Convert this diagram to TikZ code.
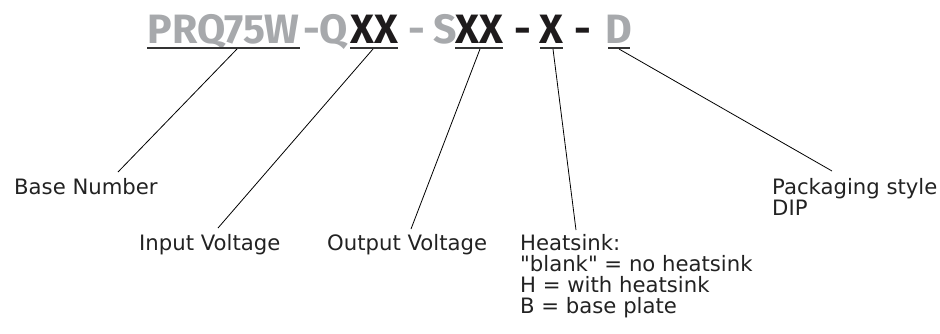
\documentclass[tikz,border=0pt]{standalone}
\usepackage{fontspec}
\setmainfont{DejaVu Sans}
\newfontfamily\titlefont{Fira Sans}
\newcommand\straightquote{\XeTeXglyph\XeTeXcharglyph"22\relax}
\definecolor{tgray}{HTML}{A7A9AC}
\definecolor{tblack}{HTML}{1E1B1C}
\definecolor{lblack}{HTML}{222222}
\definecolor{ulgray}{HTML}{333333}
\begin{document}
\begin{tikzpicture}[x=1pt,y=-1pt,
  title/.style={inner sep=0pt,anchor=base,font=\titlefont\bfseries\fontsize{41}{41}\selectfont},
  g/.style={title,text=tgray},
  k/.style={title,text=tblack},
  lbl/.style={inner sep=0pt,anchor=base west,align=left,text=lblack,font=\fontsize{21.2}{21}\selectfont},
  uline/.style={draw=ulgray,line width=1.5pt},
  conn/.style={draw=black,line width=0.8pt}]
\useasboundingbox (0,0) rectangle (940,333);
% title pieces
\node[g] (base) at (223.5,43) {PRQ75W};
\node[g] (q) at (325.5,43) {-Q};
\node[k] (in) at (374,43) {XX};
\node[g] (d1) at (416.5,43) {-};
\node[g] (s) at (445,43) {S};
\node[k] (out) at (479,43) {XX};
\node[k] (d2) at (522.5,43) {-};
\node[k] (hs) at (551.5,43) {X};
\node[k] (d3) at (582.5,43) {-};
\node[g] (pk) at (619,43) {D};
% underlines
\coordinate (u1a) at (147,48); \coordinate (u1b) at (300,48);
\coordinate (u2a) at (350,48); \coordinate (u2b) at (398,48);
\coordinate (u3a) at (455,48); \coordinate (u3b) at (503,48);
\coordinate (u4a) at (540,48); \coordinate (u4b) at (563,48);
\coordinate (u5a) at (608,48); \coordinate (u5b) at (630,48);
\draw[uline] (u1a) -- (u1b);
\draw[uline] (u2a) -- (u2b);
\draw[uline] (u3a) -- (u3b);
\draw[uline] (u4a) -- (u4b);
\draw[uline] (u5a) -- (u5b);
% labels (base anchor = baseline of last line)
\node[lbl] (lb) at (14,194) {Base Number};
\node[lbl] (li) at (139,250) {Input Voltage};
\node[lbl] (lo) at (327,250) {Output Voltage};
\node[lbl] (lh) at (520,313) {Heatsink:\\\straightquote blank\straightquote{} = no heatsink\\H = with heatsink\\B = base plate};
\node[lbl] (lp) at (772,215) {Packaging style\\DIP};
% connector ends
\coordinate (s1) at (237,49); \coordinate (e1) at (118,172);
\coordinate (s2) at (373,49); \coordinate (e2) at (218,228);
\coordinate (s3) at (480,49); \coordinate (e3) at (411,229);
\coordinate (s4) at (553,49); \coordinate (e4) at (576,230);
\coordinate (s5) at (619,49); \coordinate (e5) at (832,171);
\draw[conn] (s1) -- (e1);
\draw[conn] (s2) -- (e2);
\draw[conn] (s3) -- (e3);
\draw[conn] (s4) -- (e4);
\draw[conn] (s5) -- (e5);
\end{tikzpicture}
\end{document}
